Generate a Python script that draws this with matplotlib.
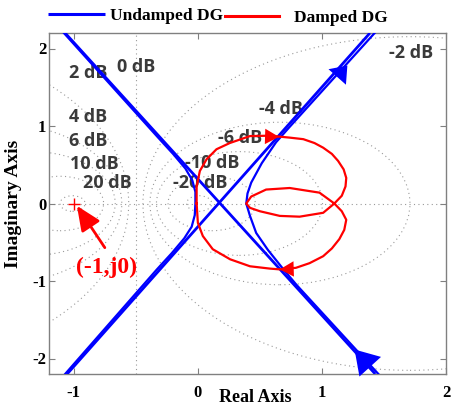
import numpy as np
import matplotlib
matplotlib.use("Agg")
import matplotlib.pyplot as plt
from matplotlib.patches import Circle

# ---------------- data ----------------
# M-circle grid levels (dB) and label positions
grid_db = [-20, -10, -6, -4, -2, 2, 4, 6, 10, 20]
label_text = ["0 dB", "2 dB", "4 dB", "6 dB", "10 dB", "20 dB",
              "-2 dB", "-4 dB", "-6 dB", "-10 dB", "-20 dB"]
label_x = [-0.652, -1.038, -1.038, -1.038, -1.03, -0.925,
           1.537, 0.49, 0.161, -0.105, -0.2]
label_y = [1.761, 1.69, 1.11, 0.81, 0.516, 0.265,
           1.94, 1.213, 0.84, 0.52, 0.265]

# Undamped DG: straight asymptote-like branches
desc_x = [-1.07, 1.43]
desc_y = [2.2, -2.2]
asc_x = [-1.054, 1.387]
asc_y = [-2.2, 2.2]
# Undamped DG: right curved branch
right_x = [1.455, 0.795, 0.69, 0.565, 0.47, 0.42, 0.39, 0.40, 0.43, 0.515, 0.63, 0.735, 1.425]
right_y = [-2.2, -1.05, -0.85, -0.6, -0.38, -0.16, 0.0, 0.13, 0.27, 0.52, 0.79, 0.98, 2.2]
# Undamped DG: left curved branch
left_x = [-1.08, -0.32, -0.2, -0.1, -0.045, -0.02, -0.02, -0.025, -0.05, -0.11, -0.21, -0.33, -1.07]
left_y = [2.2, 0.85, 0.64, 0.45, 0.3, 0.15, 0.0, -0.15, -0.3, -0.45, -0.64, -0.85, -2.2]

# Damped DG curve (closed figure)
damped_x = [-0.01, -0.01, 0.016, 0.07, 0.15, 0.257, 0.42, 0.58, 0.74, 0.85, 0.94, 1.01, 1.08, 1.13,
            1.175, 1.196, 1.19, 1.16, 1.10, 1.01, 0.82, 0.66, 0.50, 0.42, 0.39,
            0.43, 0.55, 0.74, 0.98, 1.10, 1.16, 1.196, 1.18, 1.14, 1.08, 1.01, 0.90, 0.79, 0.66, 0.58, 0.42,
            0.26, 0.12, 0.04, 0.0, -0.01]
damped_y = [0.0, 0.22, 0.42, 0.57, 0.70, 0.78, 0.87, 0.875, 0.85, 0.83, 0.78, 0.72, 0.64, 0.55,
            0.44, 0.33, 0.22, 0.10, 0.0, -0.12, -0.17, -0.16, -0.10, -0.056, 0.0,
            0.09, 0.18, 0.20, 0.14, 0.0, -0.10, -0.21, -0.34, -0.46, -0.58, -0.68, -0.77, -0.83, -0.85, -0.84, -0.81,
            -0.72, -0.59, -0.42, -0.25, 0.0]

x_ticks = [-1, 0, 1, 2]
y_ticks = [-2, -1, 0, 1, 2]

BLUE = (0, 0, 1)
RED = (1, 0, 0)
GRIDC = (0.6, 0.6, 0.6)

fig = plt.figure(figsize=(4.55, 4.07), dpi=100)
ax = fig.add_axes([49 / 455, 1 - 374 / 407, 397 / 455, 341 / 407])
ax.set_xlim(-1.2, 2.0)
ax.set_ylim(-2.2, 2.2)

# grid: M circles
for db in grid_db:
    M = 10 ** (db / 20.0)
    c = -M ** 2 / (M ** 2 - 1)
    r = abs(M / (M ** 2 - 1))
    ax.add_patch(Circle((c, 0), r, fill=False, ls=(0, (1, 3)), lw=0.8,
                        ec=GRIDC, zorder=1))
ax.axvline(-0.5, ls=(0, (1, 3)), lw=0.8, color=GRIDC, zorder=1)
ax.axhline(0, ls=(0, (1, 3)), lw=0.8, color=GRIDC, zorder=1)

for t, x, y in zip(label_text, label_x, label_y):
    ax.text(x, y, t, ha="left", va="center", fontsize=13, fontweight="bold",
            family="Open Sans", color="#3a3a3a", zorder=2)

# Undamped
l1, = ax.plot(desc_x, desc_y, color=BLUE, lw=2.0, zorder=3, solid_capstyle="butt",
              label="Undamped DG")
ax.plot(asc_x, asc_y, color=BLUE, lw=2.0, zorder=3, solid_capstyle="butt")
ax.plot(right_x, right_y, color=BLUE, lw=1.6, zorder=3)
ax.plot(left_x, left_y, color=BLUE, lw=1.6, zorder=3)

# Damped
l2, = ax.plot(damped_x, damped_y, color=RED, lw=1.6, zorder=4, label="Damped DG")


def head(tip, tail, color, ms, hl, hw):
    ax.annotate("", xy=tip, xytext=tail,
                arrowprops=dict(arrowstyle=f"-|>,head_length={hl},head_width={hw}",
                                color=color, lw=0, shrinkA=0, shrinkB=0,
                                mutation_scale=ms), zorder=5)


head((1.205, 1.78), (1.105, 1.60), BLUE, 20, 0.55, 0.42)
head((1.263, -1.884), (1.363, -2.06), BLUE, 25, 0.67, 0.42)
head((0.654, 0.86), (0.55, 0.865), RED, 15, 0.67, 0.37)
head((0.66, -0.85), (0.76, -0.845), RED, 15, 0.67, 0.37)

# (-1, j0) point
ax.plot([-1], [0], marker="+", color=RED, ms=8, mew=1.0, zorder=5)
ax.annotate("", xy=(-0.975, -0.03), xytext=(-0.75, -0.57),
            arrowprops=dict(arrowstyle="-|>,head_length=0.75,head_width=0.33",
                            color=RED, lw=2.0, shrinkA=0, shrinkB=0,
                            mutation_scale=20), zorder=5)
ax.text(-0.736, -0.826, "(-1,j0)", ha="center", va="center", fontsize=17,
        fontweight="bold", family="Liberation Serif", color=RED, zorder=5)

# axes styling
ax.set_xticks(x_ticks)
ax.set_yticks(y_ticks)
ax.set_xticklabels([str(v) for v in x_ticks])
ax.set_yticklabels([str(v) for v in y_ticks])
for s in ax.spines.values():
    s.set_color("#808080")
    s.set_linewidth(1.0)
ax.tick_params(direction="in", length=4, width=0.8, color="#808080",
               top=True, right=True, labelsize=12)
ax.tick_params(axis="x", pad=8)
ax.tick_params(axis="y", pad=2)
for lab in ax.get_xticklabels() + ax.get_yticklabels():
    lab.set_family("Liberation Serif")
    lab.set_fontweight("bold")

ax.set_xlabel("Real Axis", fontsize=13, fontweight="bold", family="Liberation Serif")
ax.set_ylabel("Imaginary Axis", fontsize=14, fontweight="bold", family="Liberation Serif")
ax.xaxis.label.set_va("bottom")
ax.xaxis.set_label_coords(0.519, -(406 - 374) / 341)
ax.yaxis.set_label_coords(-0.067, 0.5)

legprops = dict(family="Liberation Serif", weight="bold", size=12.5)
leg1 = fig.legend(handles=[l1], frameon=False, loc="center left",
                  bbox_to_anchor=(48 / 455, 1 - 16 / 407), prop=legprops,
                  handlelength=3.3, handletextpad=0.3,
                  borderaxespad=0, borderpad=0)
leg2 = fig.legend(handles=[l2], frameon=False, loc="center left",
                  bbox_to_anchor=(225 / 455, 1 - 18 / 407), prop=legprops,
                  handlelength=3.1, handletextpad=0.85,
                  borderaxespad=0, borderpad=0)
for lg in (leg1, leg2):
    for h in lg.get_lines():
        h.set_linewidth(2.2)

fig.savefig("out.png", dpi=100)
